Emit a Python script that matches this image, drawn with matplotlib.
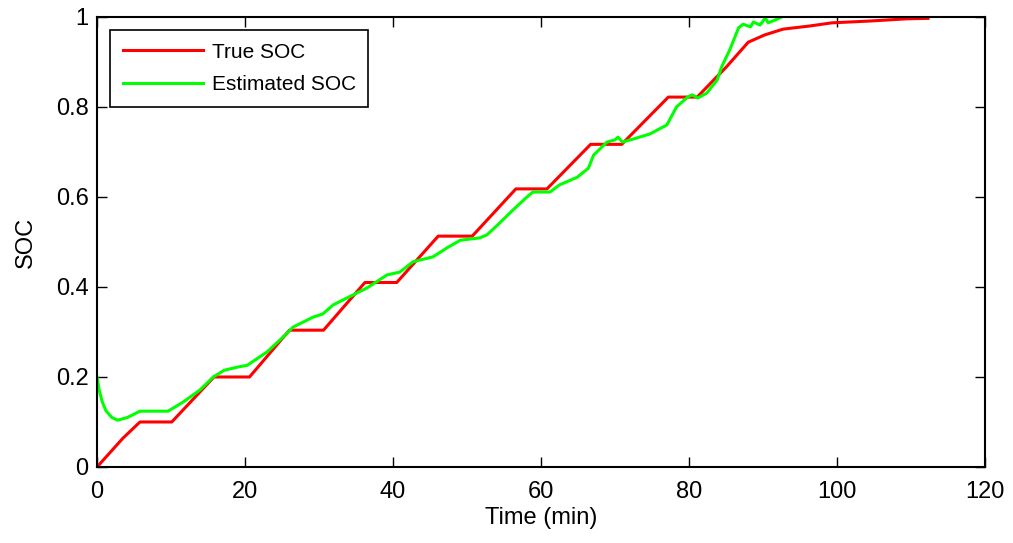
import numpy as np
import matplotlib.pyplot as plt

plt.rcParams['font.family'] = ['Liberation Sans', 'DejaVu Sans']

# True SOC (breakpoints)
t_true = [0, 3.5, 5.8, 10.1, 15.8, 20.6, 26.0, 30.6, 36.2, 40.5, 46.1, 50.7,
          56.6, 60.8, 66.7, 70.9, 77.2, 81.1, 85.1, 88.0, 90.2, 92.7, 96.3,
          99.3, 104.4, 109.5, 112.3]
soc_true = [0.0, 0.064, 0.1, 0.1, 0.2, 0.2, 0.304, 0.304, 0.41, 0.41, 0.513, 0.513,
            0.618, 0.618, 0.717, 0.717, 0.822, 0.822, 0.89, 0.944, 0.96, 0.973, 0.98,
            0.987, 0.991, 0.996, 0.997]

# Estimated SOC
t_est = [0, 0.3, 0.7, 1.2, 2.0, 2.8, 4.1, 5.8, 9.6, 11.7, 13.9, 15.7, 17.2, 19.0,
         20.3, 23.0, 24.9, 26.5, 29.2, 30.5, 31.9, 33.7, 36.5, 39.2, 40.9, 42.7,
         45.4, 47.3, 49.1, 51.7, 52.7, 54.4, 56.2, 58.1, 58.9, 61.2, 62.5, 64.9,
         66.4, 67.1, 68.9, 70.0, 70.4, 71.0, 72.5, 74.7, 77.0, 78.3, 79.8, 80.4,
         81.2, 82.4, 83.8, 84.4, 85.5, 86.7, 87.3, 88.3, 88.7, 89.6, 90.3, 90.7,
         91.6, 92.5]
soc_est = [0.2, 0.17, 0.145, 0.125, 0.11, 0.104, 0.11, 0.124, 0.124, 0.145, 0.171,
           0.2, 0.215, 0.222, 0.226, 0.256, 0.285, 0.311, 0.333, 0.34, 0.36, 0.375,
           0.398, 0.427, 0.433, 0.456, 0.467, 0.487, 0.504, 0.509, 0.516, 0.542,
           0.571, 0.6, 0.611, 0.611, 0.627, 0.644, 0.664, 0.693, 0.722, 0.727,
           0.733, 0.722, 0.729, 0.74, 0.76, 0.8, 0.822, 0.827, 0.82, 0.831, 0.86,
           0.889, 0.927, 0.976, 0.984, 0.978, 0.989, 0.982, 0.998, 0.987, 0.993, 1.0]

fig = plt.figure(figsize=(10.13, 5.43), dpi=100)
ax = fig.add_axes([0.0958, 0.14, 0.8766, 0.8287])

ax.plot(t_true, soc_true, color='#ff0000', lw=2.2, label='True SOC')
ax.plot(t_est, soc_est, color='#00ff00', lw=2.2, label='Estimated SOC')

ax.set_xlim(0, 120)
ax.set_ylim(0, 1)
ax.set_xticks(np.arange(0, 121, 20))
ax.set_yticks([0, 0.2, 0.4, 0.6, 0.8, 1])
ax.set_yticklabels(['0', '0.2', '0.4', '0.6', '0.8', '1'])
ax.tick_params(direction='in', top=True, right=True, length=7, width=1,
               labelsize=17)
ax.tick_params(axis='x', pad=10)
ax.tick_params(axis='y', pad=6)
for s in ax.spines.values():
    s.set_linewidth(1.5)

ax.set_xlabel('Time (min)', fontsize=17, labelpad=3)
ax.set_ylabel('SOC', fontsize=17, labelpad=14)

leg = ax.legend(loc='upper left', fontsize=15, fancybox=False, framealpha=1,
                edgecolor='black', borderaxespad=0.63, handlelength=3.85,
                handletextpad=0.43, borderpad=0.6, labelspacing=0.65)
leg.get_frame().set_linewidth(1.2)

fig.savefig('out.png', dpi=100)
